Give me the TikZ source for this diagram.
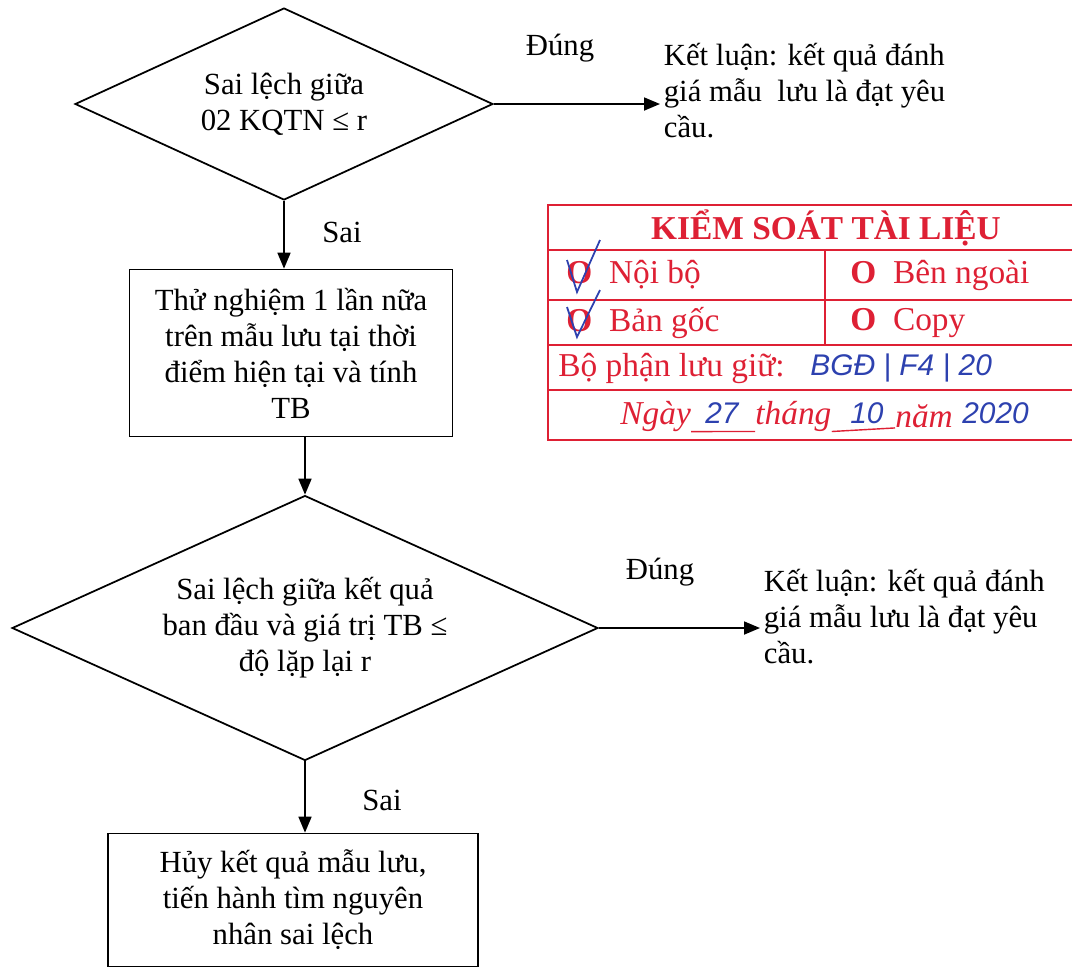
\documentclass[tikz,border=0pt]{standalone}
\usepackage{fontspec}
\setmainfont{Liberation Serif}
\newfontfamily\handfont{Liberation Sans}
\usetikzlibrary{arrows.meta, shapes.geometric}
\definecolor{stampred}{RGB}{222,32,52}
\definecolor{penblue}{RGB}{45,65,175}

\begin{document}
\begin{tikzpicture}[x=0.02cm, y=-0.02cm, font=\fontsize{17.5}{20.5}\selectfont]
\useasboundingbox (0,0) rectangle (1075,968);

\begin{scope}[every node/.style={draw,line width=1pt,align=center,inner sep=2pt}]
    \node (d1) at (284,104) [shape=diamond, aspect=2.2, minimum width=8.36cm, minimum height=3.84cm] {Sai lệch giữa\\02 KQTN ≤ r};
    \node (b1) at (291,353) [shape=rectangle, minimum width=6.46cm, minimum height=3.34cm] {Thử nghiệm 1 lần nữa\\trên mẫu lưu tại thời\\điểm hiện tại và tính\\TB};

    \node (d2) at (305,628) [shape=diamond, aspect=2.2, minimum width=11.72cm, minimum height=5.3cm] {Sai lệch giữa kết quả\\ban đầu và giá trị TB ≤\\độ lặp lại r};
    \node (b2) at (293,900) [shape=rectangle, minimum width=7.4cm, minimum height=2.66cm] {Hủy kết quả mẫu lưu,\\tiến hành tìm nguyên\\nhân sai lệch};
\end{scope}

\begin{scope}[every node/.style={align=left,anchor=west,inner sep=2pt}]
    \node (kl1) at (660,91) {Kết luận: kết quả đánh\\giá mẫu~~lưu là đạt yêu\\cầu.};
    \node (kl2) at (760,617) {Kết luận: kết quả đánh\\giá mẫu lưu là đạt yêu\\cầu.};
\end{scope}

\node (dung1) at (560,48) {Đúng};
\node (dung2) at (660,572) {Đúng};
\node (sai1) at (342,232) {Sai};
\node (sai2) at (382,800) {Sai};

\begin{scope}[>={Triangle[length=3.2mm,width=2.6mm]},
              every edge/.style={draw,line width=1pt}]
    \path [->] (d1.south) edge (d1.south |- b1.north);
    \path [->] (b1.south -| d2.north) edge (d2.north);
    \path [->] (d2.south) edge (d2.south |- b2.north);
    \path [->] (d1.east) edge (d1.east -| kl1.west);
    \path [->] (d2.east) edge (d2.east -| kl2.west);
\end{scope}

% stamp
\begin{scope}[stampred, line width=1.6pt]
    \draw (1072,205) -- (548,205) -- (548,440) -- (1072,440);
    \foreach \y in {250,300,345,390}
        \draw (548,\y) -- (1072,\y);
    \draw (825,250) -- (825,345);
\end{scope}

\begin{scope}[stampred, every node/.style={anchor=west,inner sep=0pt,font=\fontsize{19}{22}\selectfont}]
    \node (title) at (826,228) [anchor=center] {\textbf{KIỂM SOÁT TÀI LIỆU}};
    \node (noibo) at (566,275) {\textbf{O}\enspace Nội bộ};
    \node (benngoai) at (850,275) {\textbf{O}\enspace Bên ngoài};
    \node (bangoc) at (566,323) {\textbf{O}\enspace Bản gốc};
    \node (copy) at (850,323) {\textbf{O}\enspace Copy};
    \node (bophan) at (558,368) {Bộ phận lưu giữ:};
    \node (ngay) at (620,416) {\itshape Ngày};
    \node (thang) at (755,416) {\itshape tháng};
    \node (nam) at (895,416) {\itshape năm};
    \draw[line width=0.8pt] (ngay.south east) -- (thang.south west);
    \draw[line width=0.8pt] (thang.south east) -- (nam.south west);
\end{scope}

\begin{scope}[penblue, every node/.style={anchor=west,inner sep=0pt,font=\handfont\itshape\fontsize{17}{20}\selectfont}]
    \node (maso) at (810,368) {BGĐ | F4 | 20};
    \node (ngayso) at (705,413) {27};
    \node (thangso) at (850,413) {10};
    \node (namso) at (962,413) {2020};
    \draw[line width=1pt] (567,260) -- (577,292) -- (600,240);
    \draw[line width=1pt] (567,307) -- (577,337) -- (600,290);
\end{scope}

\end{tikzpicture}
\end{document}
